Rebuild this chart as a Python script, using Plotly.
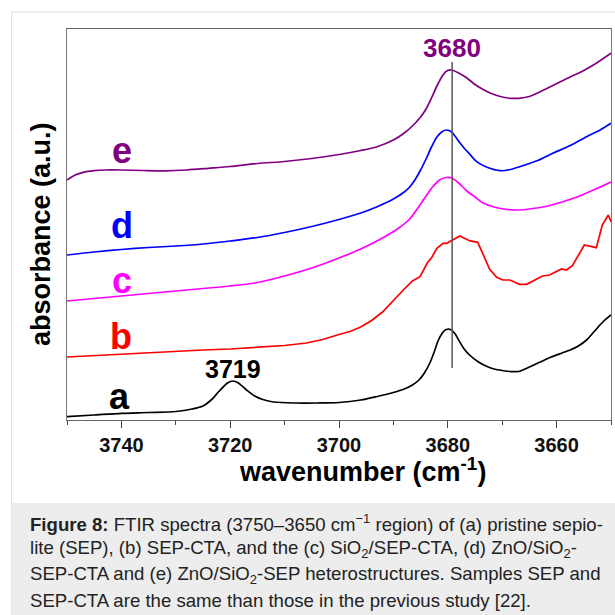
import plotly.graph_objects as go

# ---------------- data ----------------
wn_a = [3750, 3745, 3740, 3735, 3730, 3727, 3725, 3723.5, 3722, 3720.5, 3719.5, 3718.5,
        3717, 3715.5, 3714, 3712, 3708, 3704, 3700, 3696, 3693, 3690, 3688, 3686.5,
        3685.3, 3684.3, 3683.3, 3682.5, 3681.8, 3681, 3680.3, 3679.5, 3678.7, 3677.8, 3677,
        3676, 3674.5, 3673, 3671.5, 3670, 3668.5, 3667, 3665, 3663, 3661, 3659, 3657.5,
        3656, 3654.5, 3653, 3651.5, 3650]
abs_a = [3.3, 5, 6.7, 7.5, 8.5, 11, 14, 20, 29, 37, 39, 37,
         30, 24, 20.5, 18, 17, 17, 17.5, 20, 23.5, 27.5, 31, 35,
         40, 47, 57, 68, 79, 87, 90.5, 90.5, 86.5, 78, 71,
         65, 58.5, 54, 51, 49.5, 48.5, 48.5, 53, 58, 63, 67, 70,
         74, 80, 89, 98, 105]

wn_b = [3750, 3745, 3740, 3735, 3730, 3725, 3720, 3715, 3710, 3706, 3703, 3700, 3698,
        3696, 3694, 3692, 3690, 3688, 3686.5, 3685.1, 3683.8, 3682.9, 3682.0, 3680.9,
        3680.2, 3679.3, 3677.8, 3676.0, 3674.5, 3672.3, 3671.0, 3669.9, 3668.6, 3666.8,
        3665.5, 3662.6, 3661.3, 3659.1, 3658.2, 3657.1, 3654.9, 3652.7, 3651.6, 3650.5, 3650.0]
abs_b = [63, 64.5, 66, 67, 68.5, 70, 71, 72.5, 74.5, 77, 80.5, 85.5, 88.5,
         93, 99.5, 108, 120, 131, 139, 143.3, 156.7, 163, 171.7, 176.7,
         176.7, 179.3, 184, 179.3, 177.7, 150.7, 142.7, 140, 140, 135.7,
         135.7, 144, 145, 151, 150, 154.3, 175, 172.3, 195, 205, 198.3]

wn_c = [3750, 3745, 3740, 3735, 3730, 3725, 3720, 3715, 3710, 3705, 3700, 3696, 3692,
        3689, 3687, 3685.5, 3684, 3682.8, 3681.5, 3680.3, 3679.3, 3678, 3676.5, 3675,
        3673.5, 3671.5, 3669, 3667, 3665, 3662, 3659, 3656, 3653, 3650]
abs_c = [119, 121.5, 124, 126.5, 129, 131.5, 134, 137.5, 144, 152, 162, 171, 182,
         192, 201, 212, 224, 233, 240, 242.5, 242, 237, 229, 223,
         217, 213, 210.5, 210, 211, 213.5, 218, 223.5, 230.5, 238]

wn_d = [3750, 3745, 3740, 3735, 3730, 3725, 3720, 3715, 3710, 3705, 3700, 3696, 3693,
        3690, 3688, 3687, 3686, 3685, 3684, 3683, 3682, 3681, 3680.2, 3679.3,
        3678.3, 3677.2, 3676, 3674.7, 3672.8, 3670.4, 3668.5, 3666.8, 3663.5, 3660.7,
        3657.5, 3654.5, 3652, 3650]
abs_d = [165, 168, 170.5, 172.5, 174, 176, 179, 182.5, 187.5, 193.5, 200.5, 207, 213.3,
         221, 228, 233, 240.5, 250, 261, 273, 283, 288.5, 290, 288,
         281, 273.3, 266, 258.3, 252.7, 249.3, 250.5, 253.3, 259.5, 266.7,
         274.5, 283.3, 290, 296.7]

wn_e = [3750, 3748.5, 3747, 3745, 3743, 3740, 3736, 3732, 3728, 3724, 3720, 3715, 3710,
        3705, 3700, 3696, 3693, 3690, 3688, 3686.5, 3685, 3684, 3683, 3682, 3681, 3680.2,
        3679.3, 3678, 3676.5, 3675, 3673.5, 3672, 3670, 3668.5, 3667, 3665, 3663.5,
        3660.5, 3657.5, 3655, 3652.5, 3650]
abs_e = [240, 245, 247.7, 249.3, 250, 250, 249.5, 249.2, 250, 251.7, 253.5, 256.5, 258.5,
         261.5, 265.5, 269.5, 273.3, 280, 287, 294, 303, 311, 322, 334, 344, 349,
         350, 347, 342, 335.5, 330.5, 326.5, 323, 321.7, 321.7, 323.5, 327,
         335, 343, 349.5, 357.5, 366.7]

series_names = ["a", "b", "c", "d", "e"]
series_colors = ["#000000", "#FF0000", "#FF00FF", "#0000FF", "#800080"]

x_tick_vals = [3740, 3720, 3700, 3680, 3660]
x_minor_vals = [3750, 3730, 3710, 3690, 3670, 3650]

peak_main = 3679.2          # marked band (labelled 3680)
peak_main_label = "3680"
peak_main_line_y = [52, 358]
peak_side = 3719.4          # labelled 3719
peak_side_label = "3719"

label_wn = [3740.4, 3740.0, 3739.8, 3739.8, 3739.8]
label_abs = [24, 84, 140, 194.5, 270]

caption_lines = [
    "<b>Figure 8:</b> FTIR spectra (3750–3650 cm<sup>−1</sup> region) of (a) pristine sepio-",
    "lite (SEP), (b) SEP-CTA, and the (c) SiO<sub>2</sub>/SEP-CTA, (d) ZnO/SiO<sub>2</sub>-",
    "SEP-CTA and (e) ZnO/SiO<sub>2</sub>-SEP heterostructures. Samples SEP and",
    "SEP-CTA are the same than those in the previous study [22].",
]

# ---------------- figure ----------------
W, H = 615, 615
L, R, T, B = 66.5, 611.5, 29, 420
FONT = "Liberation Sans, Arial, sans-serif"


def px(xp):
    return (xp - L) / (R - L)


def py(yp):
    return (B - yp) / (B - T)


fig = go.Figure()
xs = [wn_a, wn_b, wn_c, wn_d, wn_e]
ys = [abs_a, abs_b, abs_c, abs_d, abs_e]
for i, name in enumerate(series_names):
    smooth = name != "b"
    line = dict(color=series_colors[i], width=1.7, shape="spline" if smooth else "linear")
    if smooth:
        line["smoothing"] = 0.8
    fig.add_trace(go.Scatter(x=xs[i], y=ys[i], mode="lines", name=name, line=line,
                             showlegend=False, hoverinfo="x+y"))

# marker line at the main band
fig.add_trace(go.Scatter(
    x=[peak_main, peak_main], y=peak_main_line_y, mode="lines",
    line=dict(color="#555555", width=1.5), showlegend=False, hoverinfo="skip"))

ann = []
for i, name in enumerate(series_names):
    ann.append(dict(x=label_wn[i], y=label_abs[i], xref="x", yref="y", text=name,
                    showarrow=False, xanchor="center", yanchor="middle",
                    font=dict(family=FONT, size=36, color=series_colors[i], weight="bold")))
ann.append(dict(x=peak_main, y=372, xref="x", yref="y", text=peak_main_label, showarrow=False,
                xanchor="center", yanchor="middle",
                font=dict(family=FONT, size=26, color="#800080", weight="bold")))
ann.append(dict(x=peak_side, y=51.5, xref="x", yref="y", text=peak_side_label, showarrow=False,
                xanchor="center", yanchor="middle",
                font=dict(family=FONT, size=25, color="#000000", weight="bold")))
# axis titles
ann.append(dict(x=px(363), y=py(470), xref="paper", yref="paper",
                text="wavenumber (cm<sup>-1</sup>)", showarrow=False,
                xanchor="center", yanchor="middle",
                font=dict(family=FONT, size=27, color="#000000", weight="bold")))
ann.append(dict(x=px(40), y=py(234.5), xref="paper", yref="paper",
                text="absorbance (a.u.)", showarrow=False, textangle=-90,
                xanchor="center", yanchor="middle",
                font=dict(family=FONT, size=27, color="#000000", weight="bold")))
# caption
cap_y = [523, 549, 575, 600]
for i, line in enumerate(caption_lines):
    ann.append(dict(x=px(27), y=py(cap_y[i]), xref="paper", yref="paper", text=line,
                    showarrow=False, xanchor="left", yanchor="middle",
                    font=dict(family=FONT, size=18.6, color="#222222")))

shapes = [
    dict(type="rect", xref="paper", yref="paper", x0=px(11), x1=px(616), y0=py(616), y1=py(12),
         line=dict(color="#DDDDDD", width=1), fillcolor="rgba(0,0,0,0)", layer="below"),
    dict(type="rect", xref="paper", yref="paper", x0=px(11), x1=px(616), y0=py(616), y1=py(503),
         line=dict(width=0), fillcolor="#EDEDED", layer="below"),
]

fig.update_layout(
    width=W, height=H,
    margin=dict(l=L, r=W - R, t=T, b=H - B, pad=0),
    paper_bgcolor="white", plot_bgcolor="white",
    annotations=ann, shapes=shapes,
    xaxis=dict(range=[3750, 3650], tickmode="array", tickvals=x_tick_vals,
               ticks="outside", ticklen=7, tickwidth=1.3, tickcolor="#444444",
               minor=dict(tickvals=x_minor_vals, ticks="outside", ticklen=4,
                          tickwidth=1.3, tickcolor="#444444", showgrid=False),
               showline=True, linecolor="#666666", linewidth=1.2, mirror=True,
               showgrid=False, zeroline=False,
               tickfont=dict(family=FONT, size=20, color="#111111", weight="bold")),
    yaxis=dict(range=[0, 391], showticklabels=False, ticks="",
               showline=True, linecolor="#777777", linewidth=1, mirror=True,
               showgrid=False, zeroline=False),
)

fig.write_html("out.html")
